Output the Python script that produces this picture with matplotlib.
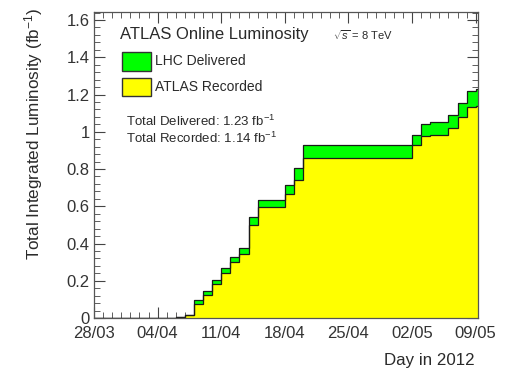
import numpy as np
import matplotlib
matplotlib.use("Agg")
import matplotlib.pyplot as plt
from matplotlib.patches import Rectangle
from matplotlib.ticker import MultipleLocator, FuncFormatter, FixedLocator

plt.rcParams['font.family'] = ['Liberation Sans', 'DejaVu Sans']
plt.rcParams['mathtext.fontset'] = 'custom'
plt.rcParams['mathtext.rm'] = 'Liberation Sans'
plt.rcParams['mathtext.it'] = 'Liberation Sans:italic'
plt.rcParams['mathtext.sf'] = 'Liberation Sans'

# ---- data (days since 28/03/2012, daily bins) ----
day_edges = np.arange(0, 44)  # bin edges 0..43
delivered = [0, 0, 0, 0, 0, 0, 0, 0, 0, 0.004, 0.018,
             0.098, 0.146, 0.205, 0.268, 0.330, 0.375, 0.541,
             0.634, 0.634, 0.634, 0.714, 0.803,
             0.928, 0.928, 0.928, 0.928, 0.928, 0.928, 0.928, 0.928,
             0.928, 0.928, 0.928, 0.928,
             0.982, 1.040, 1.050, 1.050, 1.089, 1.155, 1.220, 1.230]
recorded = [0, 0, 0, 0, 0, 0, 0, 0, 0, 0.003, 0.015,
            0.077, 0.125, 0.184, 0.244, 0.303, 0.344, 0.500,
            0.594, 0.594, 0.594, 0.664, 0.741,
            0.860, 0.860, 0.860, 0.860, 0.860, 0.860, 0.860, 0.860,
            0.860, 0.860, 0.860, 0.860,
            0.928, 0.975, 0.985, 0.985, 1.018, 1.080, 1.135, 1.140]
tick_days = [0, 7, 14, 21, 28, 35, 42]
tick_labels = ['28/03', '04/04', '11/04', '18/04', '25/04', '02/05', '09/05']
total_delivered = 1.23
total_recorded = 1.14

W, H = 505, 371
fig = plt.figure(figsize=(W / 100, H / 100), dpi=100)
L, R, T, B = 94, 478, 12, 318
ax = fig.add_axes([L / W, 1 - B / H, (R - L) / W, (B - T) / H])

green = '#00ff00'
yellow = '#ffff00'
ax.stairs(delivered, day_edges, fill=True, color=green, zorder=2)
ax.stairs(recorded, day_edges, fill=True, color=yellow, zorder=3)
ax.stairs(delivered, day_edges, color='#1a1a1a', lw=0.9, zorder=4)
ax.stairs(recorded, day_edges, color='#1a1a1a', lw=0.9, zorder=4)

ax.set_xlim(0, 42.25)
ax.set_ylim(0, 1.643)

tc = '#444444'
ax.xaxis.set_major_locator(FixedLocator(tick_days))
ax.set_xticklabels(tick_labels)
ax.xaxis.set_minor_locator(MultipleLocator(1))
ax.yaxis.set_major_locator(MultipleLocator(0.2))
ax.yaxis.set_minor_locator(MultipleLocator(0.04))
ax.yaxis.set_major_formatter(FuncFormatter(lambda v, p: '%g' % round(v, 2)))
ax.tick_params(which='both', direction='in', top=True, right=True, color=tc,
               labelcolor='#333333', labelsize=12)
ax.tick_params(which='major', length=8, width=0.8)
ax.tick_params(which='minor', length=4, width=0.6)
ax.tick_params(axis='x', pad=6)
ax.tick_params(axis='y', pad=3)
for s in ax.spines.values():
    s.set_color('#555555')
    s.set_linewidth(0.9)
    s.set_zorder(6)

txtc = '#2a2a2a'
fig.text(34 / W, 1 - 8 / H, 'Total Integrated Luminosity (fb$^{-1}$)', rotation=90,
         ha='center', va='top', fontsize=12.3, color=txtc)
fig.text(475 / W, 1 - 360 / H, 'Day in 2012', ha='right', va='center',
         fontsize=12.2, color=txtc)

def ax_xy(px, py):
    return (px - L) / (R - L), (B - py) / (B - T)

x0, y0 = ax_xy(120, 35)
ax.text(x0, y0, 'ATLAS Online Luminosity', transform=ax.transAxes, ha='left',
        va='center', fontsize=12, color=txtc, zorder=7)
x0, y0 = ax_xy(333, 35)
ax.text(x0, y0, '$\\sqrt{s}$ = 8 TeV', transform=ax.transAxes, ha='left',
        va='center', fontsize=8, color=txtc, zorder=7)

for (top, bot, col, lab) in [(52, 71, green, 'LHC Delivered'),
                             (78, 96.5, yellow, 'ATLAS Recorded')]:
    xa, ya = ax_xy(121.5, bot)
    xb, yb = ax_xy(150.5, top)
    ax.add_patch(Rectangle((xa, ya), xb - xa, yb - ya, transform=ax.transAxes,
                           facecolor=col, edgecolor='#333333', lw=1.0, zorder=7))
    xt, yt = ax_xy(155, (top + bot) / 2)
    ax.text(xt, yt, lab, transform=ax.transAxes, ha='left', va='center',
            fontsize=10, color=txtc, zorder=7)

xt, yt = ax_xy(126, 121)
ax.text(xt, yt, 'Total Delivered: %.2f fb$^{-1}$' % total_delivered,
        transform=ax.transAxes, ha='left', va='center', fontsize=9.5, color=txtc, zorder=7)
xt, yt = ax_xy(126, 138)
ax.text(xt, yt, 'Total Recorded: %.2f fb$^{-1}$' % total_recorded,
        transform=ax.transAxes, ha='left', va='center', fontsize=9.5, color=txtc, zorder=7)

fig.savefig('out.png', dpi=100)
